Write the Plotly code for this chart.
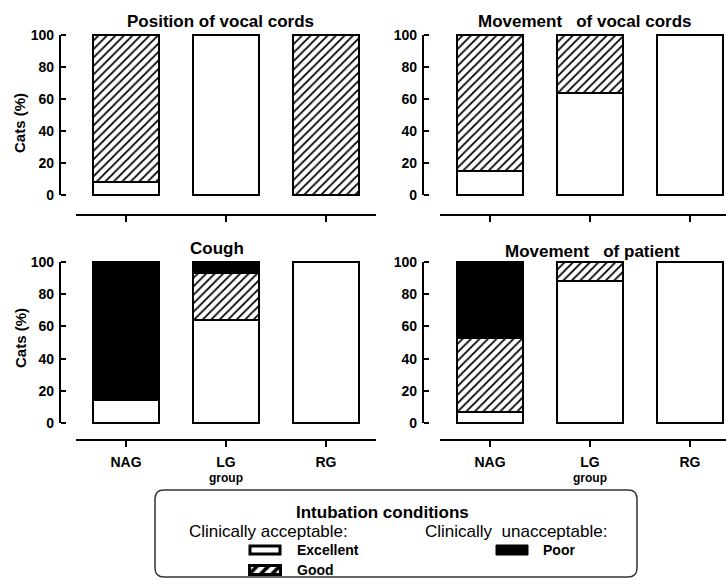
import plotly.graph_objects as go

W, H = 726, 579

categories = ["NAG", "LG", "RG"]
tick_labels = ["NAG", "LG", "RG"]
sub_label = "group"
panel_titles = ["Position of vocal cords", "Movement\u00a0\u00a0\u00a0of vocal cords",
                "Cough", "Movement\u00a0\u00a0\u00a0of patient"]

excellent_pos = [8, 100, 0]
good_pos = [92, 0, 100]
poor_pos = [0, 0, 0]

excellent_mvc = [15, 64, 100]
good_mvc = [85, 36, 0]
poor_mvc = [0, 0, 0]

excellent_cough = [14, 64, 100]
good_cough = [0, 29, 0]
poor_cough = [86, 7, 0]

excellent_mpat = [7, 88, 100]
good_mpat = [46, 12, 0]
poor_mpat = [47, 0, 0]

yticks = [0, 20, 40, 60, 80, 100]

panels = [
    (excellent_pos, good_pos, poor_pos),
    (excellent_mvc, good_mvc, poor_mvc),
    (excellent_cough, good_cough, poor_cough),
    (excellent_mpat, good_mpat, poor_mpat),
]

FONT = "Arial, 'Liberation Sans', sans-serif"


def fx(px):
    return px / W


def fy(py):
    return 1 - py / H


geo = [
    dict(xd=(76, 376), xr=(-0.5, 2.5), y0=195, y100=35, xline=215, yline=60, labels=False),
    dict(xd=(440, 726), xr=(-0.5, 2.36), y0=195, y100=35, xline=215, yline=423, labels=False),
    dict(xd=(76, 376), xr=(-0.5, 2.5), y0=423, y100=262, xline=440, yline=60, labels=True),
    dict(xd=(440, 726), xr=(-0.5, 2.36), y0=423, y100=262, xline=440, yline=423, labels=True),
]

fig = go.Figure()
layout = dict(
    width=W, height=H, margin=dict(l=0, r=0, t=0, b=0, autoexpand=False),
    paper_bgcolor="white", plot_bgcolor="rgba(0,0,0,0)",
    barmode="stack", showlegend=False, bargap=0.34,
    font=dict(family=FONT, color="black"),
)

line_style = dict(color="black", width=2)
hatch = dict(shape="/", fgcolor="black", fgopacity=1, bgcolor="white", size=6, solidity=0.3)
for i, ((ex, gd, pr), g) in enumerate(zip(panels, geo)):
    n = "" if i == 0 else str(i + 1)
    xa, ya = "x" + n, "y" + n
    fig.add_trace(go.Bar(x=categories, y=ex, xaxis=xa, yaxis=ya,
                         marker=dict(color="white", line=line_style)))
    fig.add_trace(go.Bar(x=categories, y=gd, xaxis=xa, yaxis=ya,
                         marker=dict(color="white", line=line_style, pattern=hatch)))
    fig.add_trace(go.Bar(x=categories, y=pr, xaxis=xa, yaxis=ya,
                         marker=dict(color="black", line=line_style)))
    ppu = (g["y0"] - g["y100"]) / 100.0
    ytop = g["y100"] - 1.5 * ppu
    ybot = g["y0"] + 1.5 * ppu
    layout["xaxis" + n] = dict(
        domain=[fx(g["xd"][0]), fx(g["xd"][1])], range=list(g["xr"]),
        anchor="free", position=fy(g["xline"]), automargin=False,
        showline=True, linecolor="black", linewidth=2,
        ticks="outside", ticklen=6, tickwidth=2, tickcolor="black",
        ticklabelstandoff=3,
        tickmode="array", tickvals=categories, ticktext=tick_labels,
        showticklabels=g["labels"], showgrid=False, zeroline=False,
        tickfont=dict(size=14, weight="bold", family=FONT),
        fixedrange=True,
    )
    layout["yaxis" + n] = dict(
        domain=[fy(ybot), fy(ytop)], range=[-1.5, 101.5],
        anchor="free", position=fx(g["yline"]), automargin=False,
        showline=False, showgrid=False, zeroline=False,
        ticks="inside", ticklen=5, tickwidth=2, tickcolor="black",
        ticklabelstandoff=6,
        tickvals=yticks, tickfont=dict(size=14, weight="bold", family=FONT),
        fixedrange=True,
    )

shapes = []
for i, g in enumerate(geo):
    n = "" if i == 0 else str(i + 1)
    shapes.append(dict(type="line", xref="paper", yref="y" + n,
                       x0=fx(g["yline"]), x1=fx(g["yline"]), y0=0, y1=100,
                       line=dict(color="black", width=2)))

annotations = []
title_pos = [(220, 22), (585, 22), (217, 248), (592, 251)]
for t, (px, py) in zip(panel_titles, title_pos):
    annotations.append(dict(text=t, x=fx(px), y=fy(py), xref="paper", yref="paper",
                            showarrow=False, xanchor="center", yanchor="middle",
                            font=dict(size=17, weight="bold", family=FONT)))
for py in (123, 338):
    annotations.append(dict(text="Cats (%)", x=fx(20), y=fy(py), xref="paper", yref="paper",
                            showarrow=False, textangle=-90, xanchor="center", yanchor="middle",
                            font=dict(size=15, weight="bold", family=FONT)))
for k in (3, 4):
    annotations.append(dict(text=sub_label, x=categories[1], y=fy(478), xref="x" + str(k),
                            yref="paper", showarrow=False, xanchor="center", yanchor="middle",
                            font=dict(size=12, weight="bold", family=FONT)))

# legend box
x0, x1, y0, y1, r = fx(155), fx(637), fy(490), fy(577), 9
rx, ry = r / W, r / H
path = (f"M {x0+rx},{y0} L {x1-rx},{y0} Q {x1},{y0} {x1},{y0-ry} "
        f"L {x1},{y1+ry} Q {x1},{y1} {x1-rx},{y1} L {x0+rx},{y1} "
        f"Q {x0},{y1} {x0},{y1+ry} L {x0},{y0-ry} Q {x0},{y0} {x0+rx},{y0} Z")
shapes.append(dict(type="path", path=path, xref="paper", yref="paper",
                   line=dict(color="#333", width=1.5)))
shapes.append(dict(type="rect", xref="paper", yref="paper",
                   x0=fx(250), x1=fx(280), y0=fy(554), y1=fy(546),
                   fillcolor="white", line=dict(color="black", width=3)))
shapes.append(dict(type="rect", xref="paper", yref="paper",
                   x0=fx(496), x1=fx(528), y0=fy(555), y1=fy(545),
                   fillcolor="black", line=dict(color="black", width=1)))

fig.add_trace(go.Bar(x=[0], y=[1], width=[1], xaxis="x5", yaxis="y5",
                     marker=dict(color="white", line=dict(color="black", width=3),
                                 pattern=dict(shape="/", fgcolor="black", fgopacity=1,
                                              bgcolor="white", size=8, solidity=0.45))))
layout["xaxis5"] = dict(domain=[fx(248), fx(282)], range=[-0.56, 0.56], visible=False,
                        anchor="y5", fixedrange=True, automargin=False)
layout["yaxis5"] = dict(domain=[fy(576), fy(564)], range=[-0.15, 1.15], visible=False,
                        anchor="x5", fixedrange=True, automargin=False)

leg_text = [
    ("<b>Intubation conditions</b>", 383, 512, 17, "center"),
    ("Clinically acceptable:", 268, 531, 17, "center"),
    ("Clinically\u00a0\u00a0unacceptable:", 516, 531, 17, "center"),
    ("<b>Excellent</b>", 295, 550, 14, "left"),
    ("<b>Good</b>", 295, 570, 14, "left"),
    ("<b>Poor</b>", 541, 550, 14, "left"),
]
for t, px, py, s, anc in leg_text:
    annotations.append(dict(text=t, x=fx(px), y=fy(py), xref="paper", yref="paper",
                            showarrow=False, xanchor=anc, yanchor="middle",
                            font=dict(size=s, family=FONT)))

layout["shapes"] = shapes
layout["annotations"] = annotations
fig.update_layout(**layout)
fig.write_html("out.html", config={"displayModeBar": False},
               post_script="document.body.style.margin='0';")
